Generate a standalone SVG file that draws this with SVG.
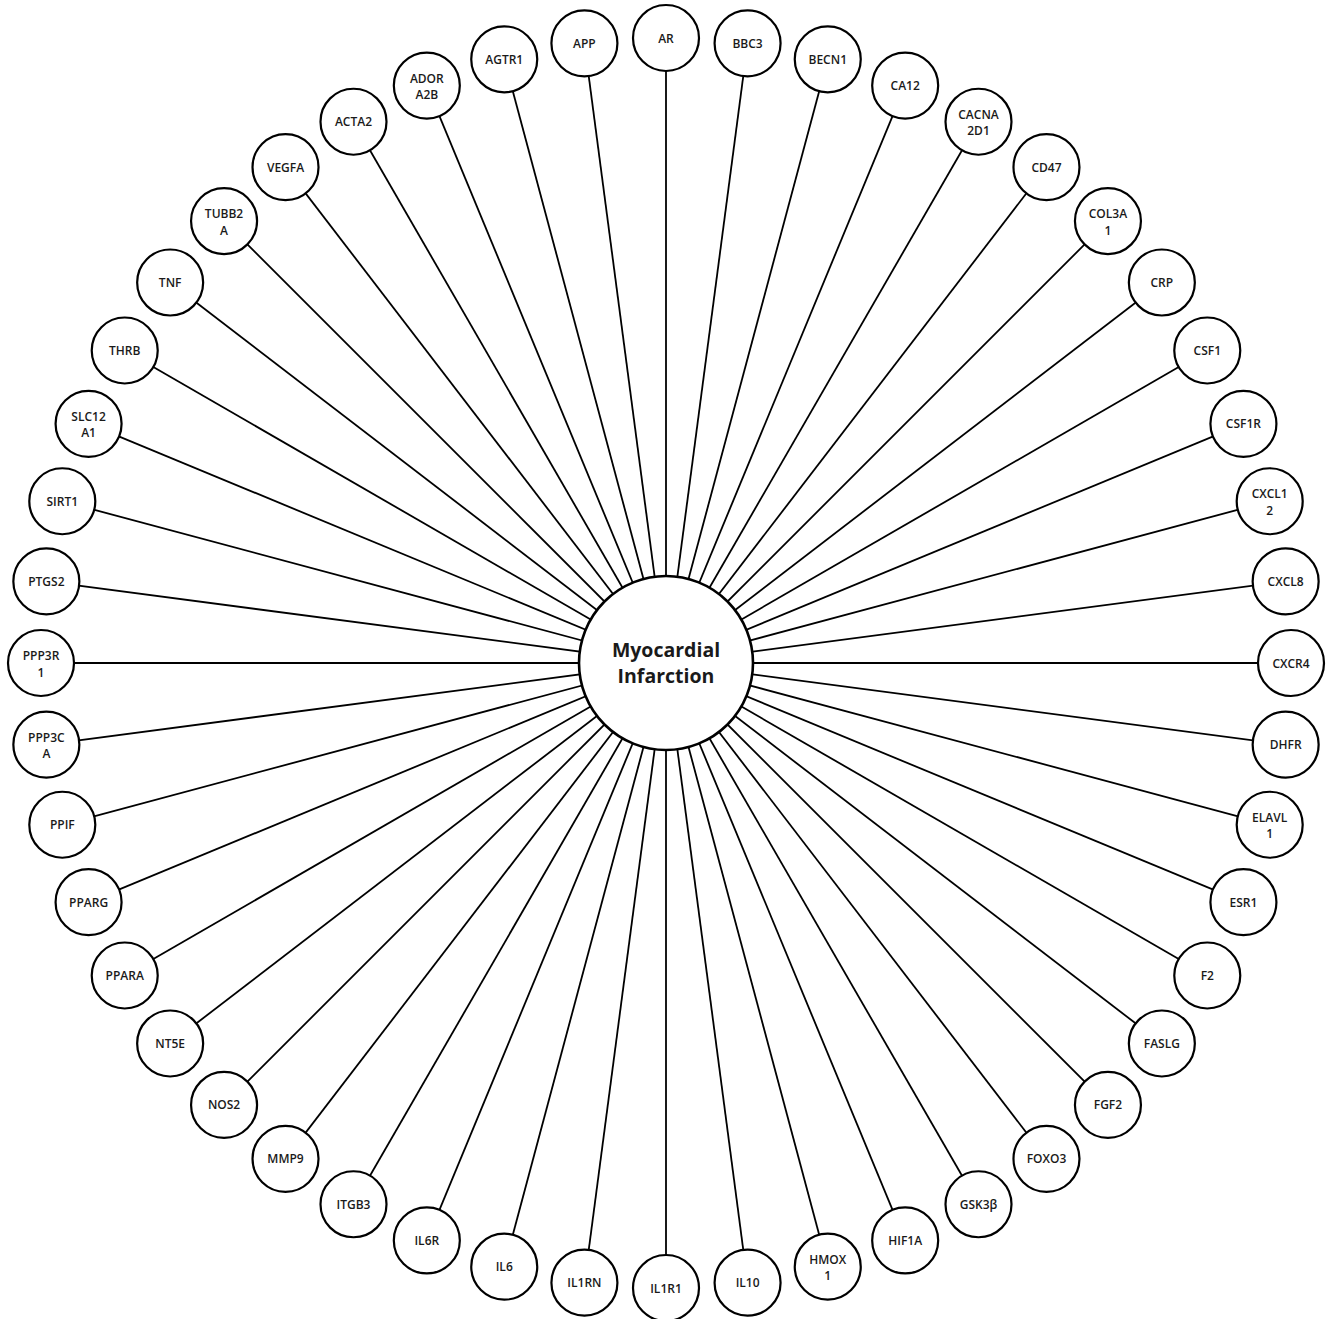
<svg xmlns="http://www.w3.org/2000/svg" width="1333" height="1319" viewBox="0 0 1333 1319">
<style>
.bg{fill:#fff}
.edge{stroke:#000;stroke-width:1.8;fill:none}
.node circle{fill:#fff;stroke:#000;stroke-width:2.2}
.node text{font-family:"Open Sans","Liberation Sans",sans-serif;font-weight:600;font-size:12px;fill:#1a1a1a;text-anchor:middle}
.hub circle{fill:#fff;stroke:#000;stroke-width:2.6}
.hub text{font-family:"Open Sans","Liberation Sans",sans-serif;font-weight:700;font-size:19.5px;fill:#1a1a1a;text-anchor:middle}
</style>
<rect class="bg" x="0" y="0" width="1333" height="1319"/>
<g id="connectors">
<line class="edge" x1="666" y1="663" x2="666" y2="38"/>
<line class="edge" x1="666" y1="663" x2="747.58" y2="43.35"/>
<line class="edge" x1="666" y1="663" x2="827.76" y2="59.30"/>
<line class="edge" x1="666" y1="663" x2="905.18" y2="85.58"/>
<line class="edge" x1="666" y1="663" x2="978.5" y2="121.73"/>
<line class="edge" x1="666" y1="663" x2="1046.48" y2="167.15"/>
<line class="edge" x1="666" y1="663" x2="1107.94" y2="221.06"/>
<line class="edge" x1="666" y1="663" x2="1161.85" y2="282.52"/>
<line class="edge" x1="666" y1="663" x2="1207.27" y2="350.5"/>
<line class="edge" x1="666" y1="663" x2="1243.42" y2="423.82"/>
<line class="edge" x1="666" y1="663" x2="1269.70" y2="501.24"/>
<line class="edge" x1="666" y1="663" x2="1285.65" y2="581.42"/>
<line class="edge" x1="666" y1="663" x2="1291" y2="663"/>
<line class="edge" x1="666" y1="663" x2="1285.65" y2="744.58"/>
<line class="edge" x1="666" y1="663" x2="1269.70" y2="824.76"/>
<line class="edge" x1="666" y1="663" x2="1243.42" y2="902.18"/>
<line class="edge" x1="666" y1="663" x2="1207.27" y2="975.5"/>
<line class="edge" x1="666" y1="663" x2="1161.85" y2="1043.48"/>
<line class="edge" x1="666" y1="663" x2="1107.94" y2="1104.94"/>
<line class="edge" x1="666" y1="663" x2="1046.48" y2="1158.85"/>
<line class="edge" x1="666" y1="663" x2="978.5" y2="1204.27"/>
<line class="edge" x1="666" y1="663" x2="905.18" y2="1240.42"/>
<line class="edge" x1="666" y1="663" x2="827.76" y2="1266.70"/>
<line class="edge" x1="666" y1="663" x2="747.58" y2="1282.65"/>
<line class="edge" x1="666" y1="663" x2="666" y2="1288"/>
<line class="edge" x1="666" y1="663" x2="584.42" y2="1282.65"/>
<line class="edge" x1="666" y1="663" x2="504.24" y2="1266.70"/>
<line class="edge" x1="666" y1="663" x2="426.82" y2="1240.42"/>
<line class="edge" x1="666" y1="663" x2="353.5" y2="1204.27"/>
<line class="edge" x1="666" y1="663" x2="285.52" y2="1158.85"/>
<line class="edge" x1="666" y1="663" x2="224.06" y2="1104.94"/>
<line class="edge" x1="666" y1="663" x2="170.15" y2="1043.48"/>
<line class="edge" x1="666" y1="663" x2="124.73" y2="975.5"/>
<line class="edge" x1="666" y1="663" x2="88.58" y2="902.18"/>
<line class="edge" x1="666" y1="663" x2="62.30" y2="824.76"/>
<line class="edge" x1="666" y1="663" x2="46.35" y2="744.58"/>
<line class="edge" x1="666" y1="663" x2="41" y2="663"/>
<line class="edge" x1="666" y1="663" x2="46.35" y2="581.42"/>
<line class="edge" x1="666" y1="663" x2="62.30" y2="501.24"/>
<line class="edge" x1="666" y1="663" x2="88.58" y2="423.82"/>
<line class="edge" x1="666" y1="663" x2="124.73" y2="350.5"/>
<line class="edge" x1="666" y1="663" x2="170.15" y2="282.52"/>
<line class="edge" x1="666" y1="663" x2="224.06" y2="221.06"/>
<line class="edge" x1="666" y1="663" x2="285.52" y2="167.15"/>
<line class="edge" x1="666" y1="663" x2="353.5" y2="121.73"/>
<line class="edge" x1="666" y1="663" x2="426.82" y2="85.58"/>
<line class="edge" x1="666" y1="663" x2="504.24" y2="59.30"/>
<line class="edge" x1="666" y1="663" x2="584.42" y2="43.35"/>
</g>
<g id="hub" class="hub"><circle cx="666" cy="663" r="87"/><text x="666" y="657">Myocardial</text><text x="666" y="683">Infarction</text></g>
<g id="n-AR" class="node"><circle cx="666" cy="38" r="33"/><text x="666" y="42.5">AR</text></g>
<g id="n-BBC3" class="node"><circle cx="747.58" cy="43.35" r="33"/><text x="747.58" y="47.85">BBC3</text></g>
<g id="n-BECN1" class="node"><circle cx="827.76" cy="59.30" r="33"/><text x="827.76" y="63.8">BECN1</text></g>
<g id="n-CA12" class="node"><circle cx="905.18" cy="85.58" r="33"/><text x="905.18" y="90.08">CA12</text></g>
<g id="n-CACNA2D1" class="node"><circle cx="978.5" cy="121.73" r="33"/><text x="978.5" y="118.73">CACNA</text><text x="978.5" y="135.23">2D1</text></g>
<g id="n-CD47" class="node"><circle cx="1046.48" cy="167.15" r="33"/><text x="1046.48" y="171.65">CD47</text></g>
<g id="n-COL3A1" class="node"><circle cx="1107.94" cy="221.06" r="33"/><text x="1107.94" y="218.06">COL3A</text><text x="1107.94" y="234.56">1</text></g>
<g id="n-CRP" class="node"><circle cx="1161.85" cy="282.52" r="33"/><text x="1161.85" y="287.02">CRP</text></g>
<g id="n-CSF1" class="node"><circle cx="1207.27" cy="350.5" r="33"/><text x="1207.27" y="355">CSF1</text></g>
<g id="n-CSF1R" class="node"><circle cx="1243.42" cy="423.82" r="33"/><text x="1243.42" y="428.32">CSF1R</text></g>
<g id="n-CXCL12" class="node"><circle cx="1269.70" cy="501.24" r="33"/><text x="1269.70" y="498.24">CXCL1</text><text x="1269.70" y="514.74">2</text></g>
<g id="n-CXCL8" class="node"><circle cx="1285.65" cy="581.42" r="33"/><text x="1285.65" y="585.92">CXCL8</text></g>
<g id="n-CXCR4" class="node"><circle cx="1291" cy="663" r="33"/><text x="1291" y="667.5">CXCR4</text></g>
<g id="n-DHFR" class="node"><circle cx="1285.65" cy="744.58" r="33"/><text x="1285.65" y="749.08">DHFR</text></g>
<g id="n-ELAVL1" class="node"><circle cx="1269.70" cy="824.76" r="33"/><text x="1269.70" y="821.76">ELAVL</text><text x="1269.70" y="838.26">1</text></g>
<g id="n-ESR1" class="node"><circle cx="1243.42" cy="902.18" r="33"/><text x="1243.42" y="906.68">ESR1</text></g>
<g id="n-F2" class="node"><circle cx="1207.27" cy="975.5" r="33"/><text x="1207.27" y="980">F2</text></g>
<g id="n-FASLG" class="node"><circle cx="1161.85" cy="1043.48" r="33"/><text x="1161.85" y="1047.98">FASLG</text></g>
<g id="n-FGF2" class="node"><circle cx="1107.94" cy="1104.94" r="33"/><text x="1107.94" y="1109.44">FGF2</text></g>
<g id="n-FOXO3" class="node"><circle cx="1046.48" cy="1158.85" r="33"/><text x="1046.48" y="1163.35">FOXO3</text></g>
<g id="n-GSK3B" class="node"><circle cx="978.5" cy="1204.27" r="33"/><text x="978.5" y="1208.77">GSK3β</text></g>
<g id="n-HIF1A" class="node"><circle cx="905.18" cy="1240.42" r="33"/><text x="905.18" y="1244.92">HIF1A</text></g>
<g id="n-HMOX1" class="node"><circle cx="827.76" cy="1266.70" r="33"/><text x="827.76" y="1263.7">HMOX</text><text x="827.76" y="1280.2">1</text></g>
<g id="n-IL10" class="node"><circle cx="747.58" cy="1282.65" r="33"/><text x="747.58" y="1287.15">IL10</text></g>
<g id="n-IL1R1" class="node"><circle cx="666" cy="1288" r="33"/><text x="666" y="1292.5">IL1R1</text></g>
<g id="n-IL1RN" class="node"><circle cx="584.42" cy="1282.65" r="33"/><text x="584.42" y="1287.15">IL1RN</text></g>
<g id="n-IL6" class="node"><circle cx="504.24" cy="1266.70" r="33"/><text x="504.24" y="1271.2">IL6</text></g>
<g id="n-IL6R" class="node"><circle cx="426.82" cy="1240.42" r="33"/><text x="426.82" y="1244.92">IL6R</text></g>
<g id="n-ITGB3" class="node"><circle cx="353.5" cy="1204.27" r="33"/><text x="353.5" y="1208.77">ITGB3</text></g>
<g id="n-MMP9" class="node"><circle cx="285.52" cy="1158.85" r="33"/><text x="285.52" y="1163.35">MMP9</text></g>
<g id="n-NOS2" class="node"><circle cx="224.06" cy="1104.94" r="33"/><text x="224.06" y="1109.44">NOS2</text></g>
<g id="n-NT5E" class="node"><circle cx="170.15" cy="1043.48" r="33"/><text x="170.15" y="1047.98">NT5E</text></g>
<g id="n-PPARA" class="node"><circle cx="124.73" cy="975.5" r="33"/><text x="124.73" y="980">PPARA</text></g>
<g id="n-PPARG" class="node"><circle cx="88.58" cy="902.18" r="33"/><text x="88.58" y="906.68">PPARG</text></g>
<g id="n-PPIF" class="node"><circle cx="62.30" cy="824.76" r="33"/><text x="62.30" y="829.26">PPIF</text></g>
<g id="n-PPP3CA" class="node"><circle cx="46.35" cy="744.58" r="33"/><text x="46.35" y="741.58">PPP3C</text><text x="46.35" y="758.08">A</text></g>
<g id="n-PPP3R1" class="node"><circle cx="41" cy="663" r="33"/><text x="41" y="660">PPP3R</text><text x="41" y="676.5">1</text></g>
<g id="n-PTGS2" class="node"><circle cx="46.35" cy="581.42" r="33"/><text x="46.35" y="585.92">PTGS2</text></g>
<g id="n-SIRT1" class="node"><circle cx="62.30" cy="501.24" r="33"/><text x="62.30" y="505.74">SIRT1</text></g>
<g id="n-SLC12A1" class="node"><circle cx="88.58" cy="423.82" r="33"/><text x="88.58" y="420.82">SLC12</text><text x="88.58" y="437.32">A1</text></g>
<g id="n-THRB" class="node"><circle cx="124.73" cy="350.5" r="33"/><text x="124.73" y="355">THRB</text></g>
<g id="n-TNF" class="node"><circle cx="170.15" cy="282.52" r="33"/><text x="170.15" y="287.02">TNF</text></g>
<g id="n-TUBB2A" class="node"><circle cx="224.06" cy="221.06" r="33"/><text x="224.06" y="218.06">TUBB2</text><text x="224.06" y="234.56">A</text></g>
<g id="n-VEGFA" class="node"><circle cx="285.52" cy="167.15" r="33"/><text x="285.52" y="171.65">VEGFA</text></g>
<g id="n-ACTA2" class="node"><circle cx="353.5" cy="121.73" r="33"/><text x="353.5" y="126.23">ACTA2</text></g>
<g id="n-ADORA2B" class="node"><circle cx="426.82" cy="85.58" r="33"/><text x="426.82" y="82.58">ADOR</text><text x="426.82" y="99.08">A2B</text></g>
<g id="n-AGTR1" class="node"><circle cx="504.24" cy="59.30" r="33"/><text x="504.24" y="63.8">AGTR1</text></g>
<g id="n-APP" class="node"><circle cx="584.42" cy="43.35" r="33"/><text x="584.42" y="47.85">APP</text></g>
</svg>
